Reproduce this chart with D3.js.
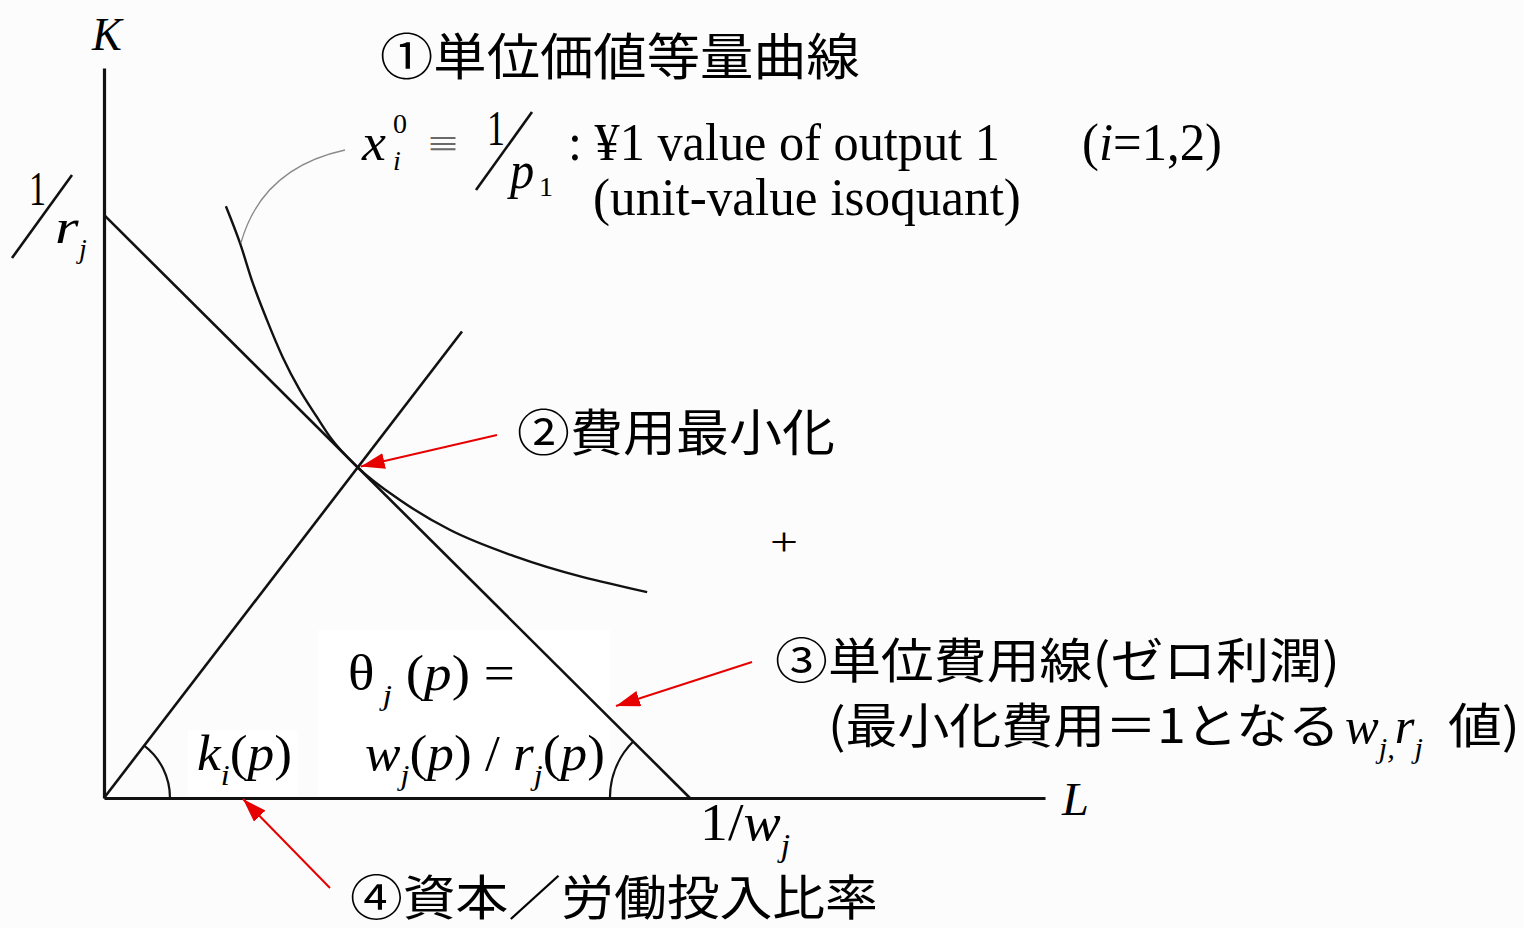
<!DOCTYPE html>
<html>
<head>
<meta charset="utf-8">
<script src="https://cdn.jsdelivr.net/npm/d3@7"></script>
<style>
  body { margin: 0; background: #fcfcfc; }
  svg { display: block; }
</style>
</head>
<body>
<script>
// Axis extents (in units of 1/w and 1/r)
const axisMaxL = 1.606;
const axisMaxK = 1.252;

// Unit-value isoquant
const isoquantL = [0.208, 0.232, 0.254, 0.278, 0.305, 0.334, 0.363, 0.386, 0.433, 0.505, 0.590, 0.705, 0.927];
const isoquantK = [1.015, 0.952, 0.883, 0.820, 0.756, 0.700, 0.654, 0.619, 0.567, 0.511, 0.460, 0.413, 0.353];

// Unit cost line (w L + r K = 1) and capital/labour ray
const costL = [0, 1];
const costK = [1, 0];
const rayL = [0, 0.611];
const rayK = [0, 0.800];

// Tangency point (cost minimisation)
const tangentL = 0.433;
const tangentK = 0.567;

const serif = "'Liberation Serif', 'Times New Roman', serif";
const cjk = "'Noto Sans CJK JP', 'Noto Sans CJK SC', sans-serif";

const width = 1524, height = 928;
const svg = d3.select("body").append("svg")
  .attr("width", width)
  .attr("height", height);

svg.append("rect").attr("width", width).attr("height", height).attr("fill", "#fcfcfc");

// Scales
const x = d3.scaleLinear().domain([0, axisMaxL]).range([104, 1045]);
const y = d3.scaleLinear().domain([0, axisMaxK]).range([798, 68]);

// White patches behind the lower labels
svg.append("rect").attr("x", 188).attr("y", 730).attr("width", 110).attr("height", 66).attr("fill", "#fff");
svg.append("rect").attr("x", 318).attr("y", 630).attr("width", 292).attr("height", 166).attr("fill", "#fff");

// Axes (no ticks, just the domain lines)
svg.append("g")
  .attr("transform", `translate(0,${y(0)})`)
  .call(d3.axisBottom(x).tickValues([]).tickSizeOuter(0))
  .call(g => g.select(".domain").attr("stroke", "#111").attr("stroke-width", 3.2));

svg.append("g")
  .attr("transform", `translate(${x(0)},0)`)
  .call(d3.axisLeft(y).tickValues([]).tickSizeOuter(0))
  .call(g => g.select(".domain").attr("stroke", "#111").attr("stroke-width", 3.2));

// Lines
const line = d3.line().x(d => x(d[0])).y(d => y(d[1]));

svg.append("path")
  .datum(d3.zip(costL, costK))
  .attr("fill", "none").attr("stroke", "#111").attr("stroke-width", 2.6)
  .attr("d", line);

svg.append("path")
  .datum(d3.zip(rayL, rayK))
  .attr("fill", "none").attr("stroke", "#111").attr("stroke-width", 2.6)
  .attr("d", line);

svg.append("path")
  .datum(d3.zip(isoquantL, isoquantK))
  .attr("fill", "none").attr("stroke", "#111").attr("stroke-width", 2.4)
  .attr("d", line.curve(d3.curveMonotoneX));

// Angle arcs
function angleArc(cx, cy, r, a0, a1, ccw) {
  const p = d3.path();
  p.moveTo(cx + r * Math.cos(a0), cy + r * Math.sin(a0));
  p.arc(cx, cy, r, a0, a1, ccw);
  svg.append("path").attr("d", p.toString())
    .attr("fill", "none").attr("stroke", "#111").attr("stroke-width", 2.2);
}
const rayAngle = Math.atan2(y(rayK[1]) - y(0), x(rayL[1]) - x(0));
angleArc(x(0), y(0), 66, 0, rayAngle, true);
const costAngle = Math.atan2(y(costK[0]) - y(costK[1]), x(costL[0]) - x(costL[1]));
angleArc(x(1), y(0), 80, Math.PI, costAngle, false);

// Grey leader to the isoquant
const lead = d3.path();
lead.moveTo(345, 150);
lead.quadraticCurveTo(262, 168, x(isoquantL[1]) + 1, y(isoquantK[1]));
svg.append("path").attr("d", lead.toString())
  .attr("fill", "none").attr("stroke", "#8a8a8a").attr("stroke-width", 1.3);

// Red arrows
svg.append("defs").append("marker")
  .attr("id", "head")
  .attr("markerUnits", "userSpaceOnUse")
  .attr("viewBox", "0 0 24 16")
  .attr("refX", 24).attr("refY", 8)
  .attr("markerWidth", 24).attr("markerHeight", 16)
  .attr("orient", "auto")
  .append("path").attr("d", "M0,0L24,8L0,16Z").attr("fill", "#e60000");

function arrow(x1, y1, x2, y2) {
  svg.append("line")
    .attr("x1", x1).attr("y1", y1).attr("x2", x2).attr("y2", y2)
    .attr("stroke", "#e60000").attr("stroke-width", 2)
    .attr("marker-end", "url(#head)");
}
arrow(497, 435, x(tangentL) + 3, y(tangentK) - 1);
arrow(752, 662, 616, 706);
arrow(330, 888, 243, 799);

// Text helper: parts are [text, kind] where kind may hold "it" (italic), "sub", "sup", "cjk"
function label(px, py, w, size, parts, family = serif, fill = "#000") {
  const t = svg.append("text")
    .attr("font-family", family)
    .attr("font-size", size)
    .attr("fill", fill);
  let off = 0;
  parts.forEach(p => {
    const [str, kind = ""] = Array.isArray(p) ? p : [p];
    const target = kind.includes("sub") ? 0.3 * size : kind.includes("sup") ? -0.38 * size : 0;
    const s = t.append("tspan").text(str).attr("dy", target - off);
    off = target;
    if (kind.includes("it")) s.attr("font-style", "italic");
    if (target !== 0) s.attr("font-size", 0.6 * size);
    if (kind.includes("cjk")) s.attr("font-family", cjk);
  });
  const bw = t.node().getBBox().width;
  const sx = w ? w / bw : 1;
  t.attr("transform", `translate(${px},${py}) scale(${sx},1)`);
  return t;
}

function slash(x1, y1, x2, y2) {
  svg.append("line").attr("x1", x1).attr("y1", y1).attr("x2", x2).attr("y2", y2)
    .attr("stroke", "#111").attr("stroke-width", 2.6);
}

// Axis names
label(92, 50, 33, 46, [["K", "it"]]);
label(1062, 815, 28, 46, [["L", "it"]]);

// 1/r_j on the K axis
label(29, 205, 17, 48, ["1"]);
slash(12, 258, 72, 175);
label(55, 243, 24, 48, [["r", "it"]]);
label(79, 258, null, 28, [["j", "it"]]);

// 1/w_j on the L axis
label(700, 840, 90, 52, ["1/", ["w", "it"], ["j", "itsub"]]);

// Isoquant definition
label(380, 75, 480, 50, ["①単位価値等量曲線"], cjk);
label(362, 160, 25, 52, [["x", "it"]]);
label(393, 133, null, 28, ["0"]);
label(393, 170, null, 28, [["i", "it"]]);
label(428, 157, 30, 40, ["≡"], serif, "#6a6a6a");
label(487, 145, 18, 50, ["1"]);
slash(476, 190, 532, 112);
label(510, 188, 28, 52, [["p", "it"]]);
label(539, 196, null, 28, ["1"]);
label(568, 160, 432, 52, [": ¥1 value of output 1"]);
label(1082, 160, 140, 52, ["(", ["i", "it"], "=1,2)"]);
label(593, 215, 428, 52, ["(unit-value isoquant)"]);

// Cost minimisation
label(517, 451, 318, 50, ["②費用最小化"], cjk);
label(770, 555, 28, 40, ["+"]);

// Unit cost line
label(775, 678, 565, 48, ["③単位費用線(ゼロ利潤)"], cjk);
label(828, 743, 512, 48, ["(最小化費用＝1となる"], cjk);
label(1345, 743, 78, 50, [["w", "it"], ["j,", "itsub"], ["r", "it"], ["j", "itsub"]]);
label(1448, 743, 72, 48, ["値)"], cjk);

// Angle labels
label(348, 690, 167, 50, ["θ", [" j", "itsub"], " (", ["p", "it"], ") ="]);
label(197, 770, 95, 50, [["k", "it"], ["i", "itsub"], "(", ["p", "it"], ")"]);
label(365, 770, 240, 50, [["w", "it"], ["j", "itsub"], "(", ["p", "it"], ") / ", ["r", "it"], ["j", "itsub"], "(", ["p", "it"], ")"]);

// Capital / labour ratio
label(350, 915, 528, 48, ["④資本／労働投入比率"], cjk);
</script>
</body>
</html>
